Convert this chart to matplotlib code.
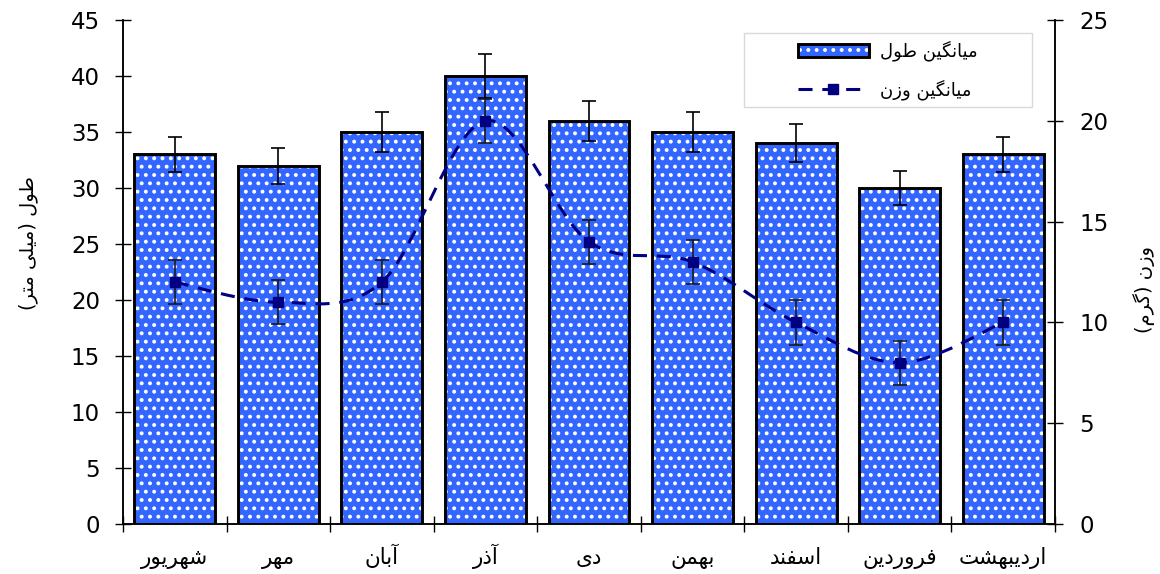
import numpy as np
import matplotlib
matplotlib.use("Agg")
import matplotlib.pyplot as plt
from matplotlib.path import Path
from matplotlib.patches import PathPatch, Rectangle
from matplotlib.lines import Line2D

# Monthly means (length in mm on the left axis, weight in g on the right axis)
months = ["شهریور", "مهر", "آبان", "آذر", "دی", "بهمن", "اسفند", "فروردین", "اردیبهشت"]
length_mean = [33, 32, 35, 40, 36, 35, 34, 30, 33]
length_err = [1.6, 1.6, 1.8, 2.0, 1.8, 1.8, 1.7, 1.5, 1.6]
weight_mean = [12, 11, 12, 20, 14, 13, 10, 8, 10]
weight_err = [1.1, 1.1, 1.1, 1.1, 1.1, 1.1, 1.1, 1.1, 1.1]

length_label = "میانگین طول"
weight_label = "میانگین وزن"
left_title = "طول (میلی متر)"
right_title = "وزن (گرم)"

# contextual forms: isolated, final[, initial, medial]
JOIN_FORMS = {
    "ا": "\ufe8d\ufe8e",
    "آ": "\ufe81\ufe82",
    "د": "\ufea9\ufeaa",
    "ذ": "\ufeab\ufeac",
    "ر": "\ufead\ufeae",
    "ز": "\ufeaf\ufeb0",
    "و": "\ufeed\ufeee",
    "ب": "\ufe8f\ufe90\ufe91\ufe92",
    "ت": "\ufe95\ufe96\ufe97\ufe98",
    "س": "\ufeb1\ufeb2\ufeb3\ufeb4",
    "ش": "\ufeb5\ufeb6\ufeb7\ufeb8",
    "ط": "\ufec1\ufec2\ufec3\ufec4",
    "ف": "\ufed1\ufed2\ufed3\ufed4",
    "ل": "\ufedd\ufede\ufedf\ufee0",
    "م": "\ufee1\ufee2\ufee3\ufee4",
    "ن": "\ufee5\ufee6\ufee7\ufee8",
    "ه": "\ufee9\ufeea\ufeeb\ufeec",
    "\u06cc": "\ufbfc\ufbfd\ufbfe\ufbff",
    "گ": "\ufb92\ufb93\ufb94\ufb95",
}
MIRROR = {"(": ")", ")": "("}


def fa(text):
    """ Shape Persian letters and put them in visual (left-to-right) order """
    text = text.replace("\u064a", "\u06cc")
    out = []
    for i, ch in enumerate(text):
        forms = JOIN_FORMS.get(ch)
        if forms is None:
            out.append(MIRROR.get(ch, ch))
            continue
        prev = text[i - 1] if i > 0 else ""
        nxt = text[i + 1] if i + 1 < len(text) else ""
        joins_prev = len(JOIN_FORMS.get(prev, "")) == 4
        joins_next = len(forms) == 4 and nxt in JOIN_FORMS
        if joins_prev and joins_next:
            out.append(forms[3])
        elif joins_prev:
            out.append(forms[1])
        elif joins_next:
            out.append(forms[2])
        else:
            out.append(forms[0])
    return "".join(reversed(out))


def smooth_path(x, y):
    """ Bezier path through the points (Catmull-Rom style smoothing) """
    pts = np.column_stack([x, y]).astype(float)
    n = len(pts)
    verts = [pts[0]]
    codes = [Path.MOVETO]
    for i in range(n - 1):
        p0 = pts[max(i - 1, 0)]
        p1 = pts[i]
        p2 = pts[i + 1]
        p3 = pts[min(i + 2, n - 1)]
        verts += [p1 + (p2 - p0) / 6, p2 - (p3 - p1) / 6, p2]
        codes += [Path.CURVE4] * 3
    return Path(verts, codes)


plt.rcParams["font.family"] = ["DejaVu Sans"]
plt.rcParams["hatch.linewidth"] = 1.6

BAR_BLUE = "#3366ff"
NAVY = "#000080"
DASH = (0, (4.6, 3.2))

fig = plt.figure(figsize=(11.6, 5.74), dpi=100)
ax = fig.add_axes([0.106, 0.0871, 0.8035, 0.878])
ax2 = ax.twinx()

x = np.arange(len(months))

# bars: dotted fill first, then the black outline on top
fill = ax.bar(x, length_mean, width=0.78, color=BAR_BLUE, edgecolor="white",
              hatch="..", linewidth=0, zorder=2)
edge = ax.bar(x, length_mean, width=0.78, fill=False, edgecolor="black",
              linewidth=2.1, zorder=3)
ax.errorbar(x, length_mean, yerr=length_err, fmt="none", ecolor="black",
            elinewidth=1.2, capsize=5, capthick=1.2, zorder=4)

# weight line on the secondary axis
ax2.add_patch(PathPatch(smooth_path(x, weight_mean), fill=False, edgecolor=NAVY,
                        linewidth=2.2, linestyle=DASH, zorder=2))
ax2.errorbar(x, weight_mean, yerr=weight_err, fmt="none", ecolor="#1a1a1a",
             elinewidth=1.2, capsize=5, capthick=1.2, zorder=3)
ax2.plot(x, weight_mean, "s", color=NAVY, markersize=7, zorder=4)

ax.set_xlim(-0.5, len(months) - 0.5)
ax.set_ylim(0, 45)
ax2.set_ylim(0, 25)
ax.set_yticks(np.arange(0, 46, 5))
ax2.set_yticks(np.arange(0, 26, 5))

ax.set_xticks(x)
ax.set_xticklabels([fa(m) for m in months], va="baseline")
ax.set_xticks(np.arange(-0.5, len(months), 1), minor=True)
ax.tick_params(axis="x", which="major", length=0, pad=29, labelsize=15.5)
ax.tick_params(axis="x", which="minor", direction="inout", length=11, width=1)
ax.tick_params(axis="y", direction="inout", length=11, width=1, pad=11, labelsize=16.5)
ax2.tick_params(axis="y", direction="inout", length=11, width=1, pad=12, labelsize=16.5)

for a in (ax, ax2):
    a.spines["top"].set_visible(False)
    for side in ("left", "right", "bottom"):
        a.spines[side].set_linewidth(1.1)

ax.set_ylabel(fa(left_title), fontsize=14)
ax2.set_ylabel(fa(right_title), fontsize=14, rotation=90)
ax.yaxis.set_label_coords(-0.0912, 0.557)
ax2.yaxis.set_label_coords(1.0837, 0.466)

# legend with a wide light frame
ax2.add_patch(Rectangle((0.666, 0.827), 0.309, 0.147, transform=ax2.transAxes,
                        facecolor="white", edgecolor="#d9d9d9", linewidth=1.0,
                        zorder=5))
weight_handle = Line2D([], [], color=NAVY, linewidth=2.2, linestyle=DASH,
                       marker="s", markersize=7)
leg = ax2.legend([(fill[0], edge[0]), weight_handle],
                 [fa(length_label), fa(weight_label)],
                 loc="center", bbox_to_anchor=(0.8205, 0.9005), frameon=False,
                 fontsize=13, handlelength=3.9, handletextpad=0.6,
                 labelspacing=1.0, numpoints=1)
leg.set_zorder(6)

fig.savefig("out.png", dpi=100)
